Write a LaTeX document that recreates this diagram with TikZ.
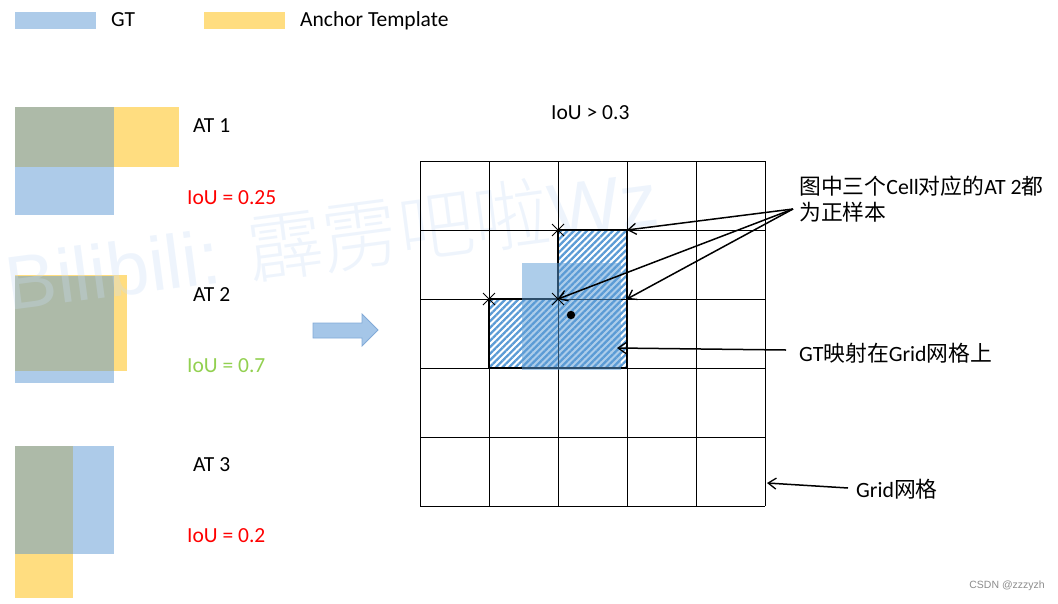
\documentclass[tikz,border=0pt]{standalone}
\usepackage{fontspec}
\setmainfont{Carlito}
\newfontfamily\cjk{Noto Sans CJK SC}
\newfontfamily\wmfont{Liberation Sans}
\newfontfamily\wmcjk{Noto Sans CJK SC Light}
\usetikzlibrary{arrows.meta,patterns.meta}
\definecolor{gtblue}{RGB}{173,203,233}
\definecolor{atyellow}{RGB}{255,221,128}
\definecolor{ovl}{RGB}{173,186,168}
\definecolor{hatchc}{RGB}{91,155,213}
\definecolor{ioured}{RGB}{255,0,0}
\definecolor{iougreen}{RGB}{146,208,80}
\definecolor{wmc}{RGB}{200,220,245}
\definecolor{bigarrow}{RGB}{165,198,232}
\definecolor{bigarrowb}{RGB}{130,170,215}
\begin{document}
\begin{tikzpicture}[x=1pt,y=-1pt,
  lbl/.style={inner sep=0pt, anchor=west, font=\fontsize{21.5}{25}\selectfont},
  zh/.style={inner sep=0pt, anchor=west, font=\fontsize{21.8}{25}\selectfont},
  gridline/.style={line width=0.95pt, black},
  boldoutline/.style={line width=2.6pt, black, line join=miter},
  arr/.style={line width=1.5pt, -{Straight Barb[length=8pt,width=11pt,line width=1.3pt]}},
  xmark/.style={line width=1pt, black},
]
\useasboundingbox (0,0) rectangle (1058,603);

% legend
\fill[gtblue] (15,12) rectangle (96,29);
\node[lbl] (gtl) at (111,20) {GT};
\fill[atyellow] (204,12) rectangle (285,29);
\node[lbl] (atl) at (300,21) {Anchor Template};

% AT 1
\fill[gtblue] (15,107) rectangle (114,215);
\fill[atyellow] (15,107) rectangle (179,167);
\fill[ovl] (15,107) rectangle (114,167);
% AT 2
\fill[gtblue] (15,276) rectangle (114,383);
\fill[atyellow] (15,275) rectangle (127,371);
\fill[ovl] (15,276) rectangle (114,371);
% AT 3
\fill[gtblue] (15,446) rectangle (114,554);
\fill[atyellow] (15,446) rectangle (73,598);
\fill[ovl] (15,446) rectangle (73,554);

% big arrow
\draw[fill=bigarrow, draw=bigarrowb, line width=0.8pt, line join=miter]
  (313,323) -- (362,323) -- (362,314) -- (378,330) -- (362,346) -- (362,338) -- (313,338) -- cycle;

% watermark
\node[inner sep=0pt, anchor=west, rotate=7.5, text=wmc, opacity=0.3,
      font=\fontsize{76}{84}\selectfont] (wm) at (6,282)
  {\wmfont Bilibili: {\wmcjk 霹雳吧啦}Wz};

% grid
\foreach \i in {0,...,5} {
  \draw[gridline] (420+69*\i,161) -- (420+69*\i,506);
  \draw[gridline] (420,161+69*\i) -- (765,161+69*\i);
}
% hatched cells
\fill[pattern={Lines[angle=45,distance=4.6pt,line width=2.3pt]}, pattern color=hatchc]
  (558,230) -- (627,230) -- (627,368) -- (489,368) -- (489,299) -- (558,299) -- cycle;
\draw[gridline] (558,230) -- (558,368);
\draw[gridline] (489,299) -- (627,299);
\draw[boldoutline] (558,230) -- (627,230) -- (627,368) -- (489,368) -- (489,299) -- (558,299) -- cycle;
% GT on the grid
\fill[hatchc, opacity=0.5] (522,263) rectangle (621,370);
% marks
\coordinate (p1) at (558,230);
\coordinate (p2) at (489,299);
\coordinate (p3) at (558,299);
\coordinate (q1) at (627,230);
\coordinate (q3) at (627,299);
\foreach \p in {p1,p2,p3} {
  \draw[xmark] (\p) +(-6,-6) -- +(6,6) +(-6,6) -- +(6,-6);
}
\fill (571,315) circle (4.2);

% texts
\node[lbl] (at1) at (193,126) {AT 1};
\node[lbl, text=ioured] (iou1) at (187,198) {IoU = 0.25};
\node[lbl] (at2) at (193,295) {AT 2};
\node[lbl, text=iougreen] (iou2) at (187,366) {IoU = 0.7};
\node[lbl] (at3) at (193,465) {AT 3};
\node[lbl, text=ioured] (iou3) at (187,536) {IoU = 0.2};
\node[lbl] (thr) at (551,113) {IoU > 0.3};

\node[zh] (t1) at (799,186) {{\cjk 图中三个}Cell{\cjk 对应的}AT 2{\cjk 都}};
\node[zh] (t2) at (799,212) {\cjk 为正样本};
\node[zh] (t3) at (799,353) {GT{\cjk 映射在}Grid{\cjk 网格上}};
\node[zh] (t4) at (856,489) {Grid{\cjk 网格}};

\coordinate (tail1) at (793,209);
\draw[arr] (tail1) -- (q1);
\draw[arr] (tail1) -- (p3);
\draw[arr] (tail1) -- (q3);
\coordinate (tail2) at (786,350);
\coordinate (gthead) at (617,348);
\draw[arr] (tail2) -- (gthead);
\coordinate (tail3) at (848,488);
\coordinate (gridhead) at (767,483);
\draw[arr] (tail3) -- (gridhead);

\node[inner sep=0pt, anchor=east, text=black!45, font=\wmfont\fontsize{10.5}{12}\selectfont] (csdn) at (1045,586) {CSDN @zzzyzh};
\end{tikzpicture}
\end{document}
